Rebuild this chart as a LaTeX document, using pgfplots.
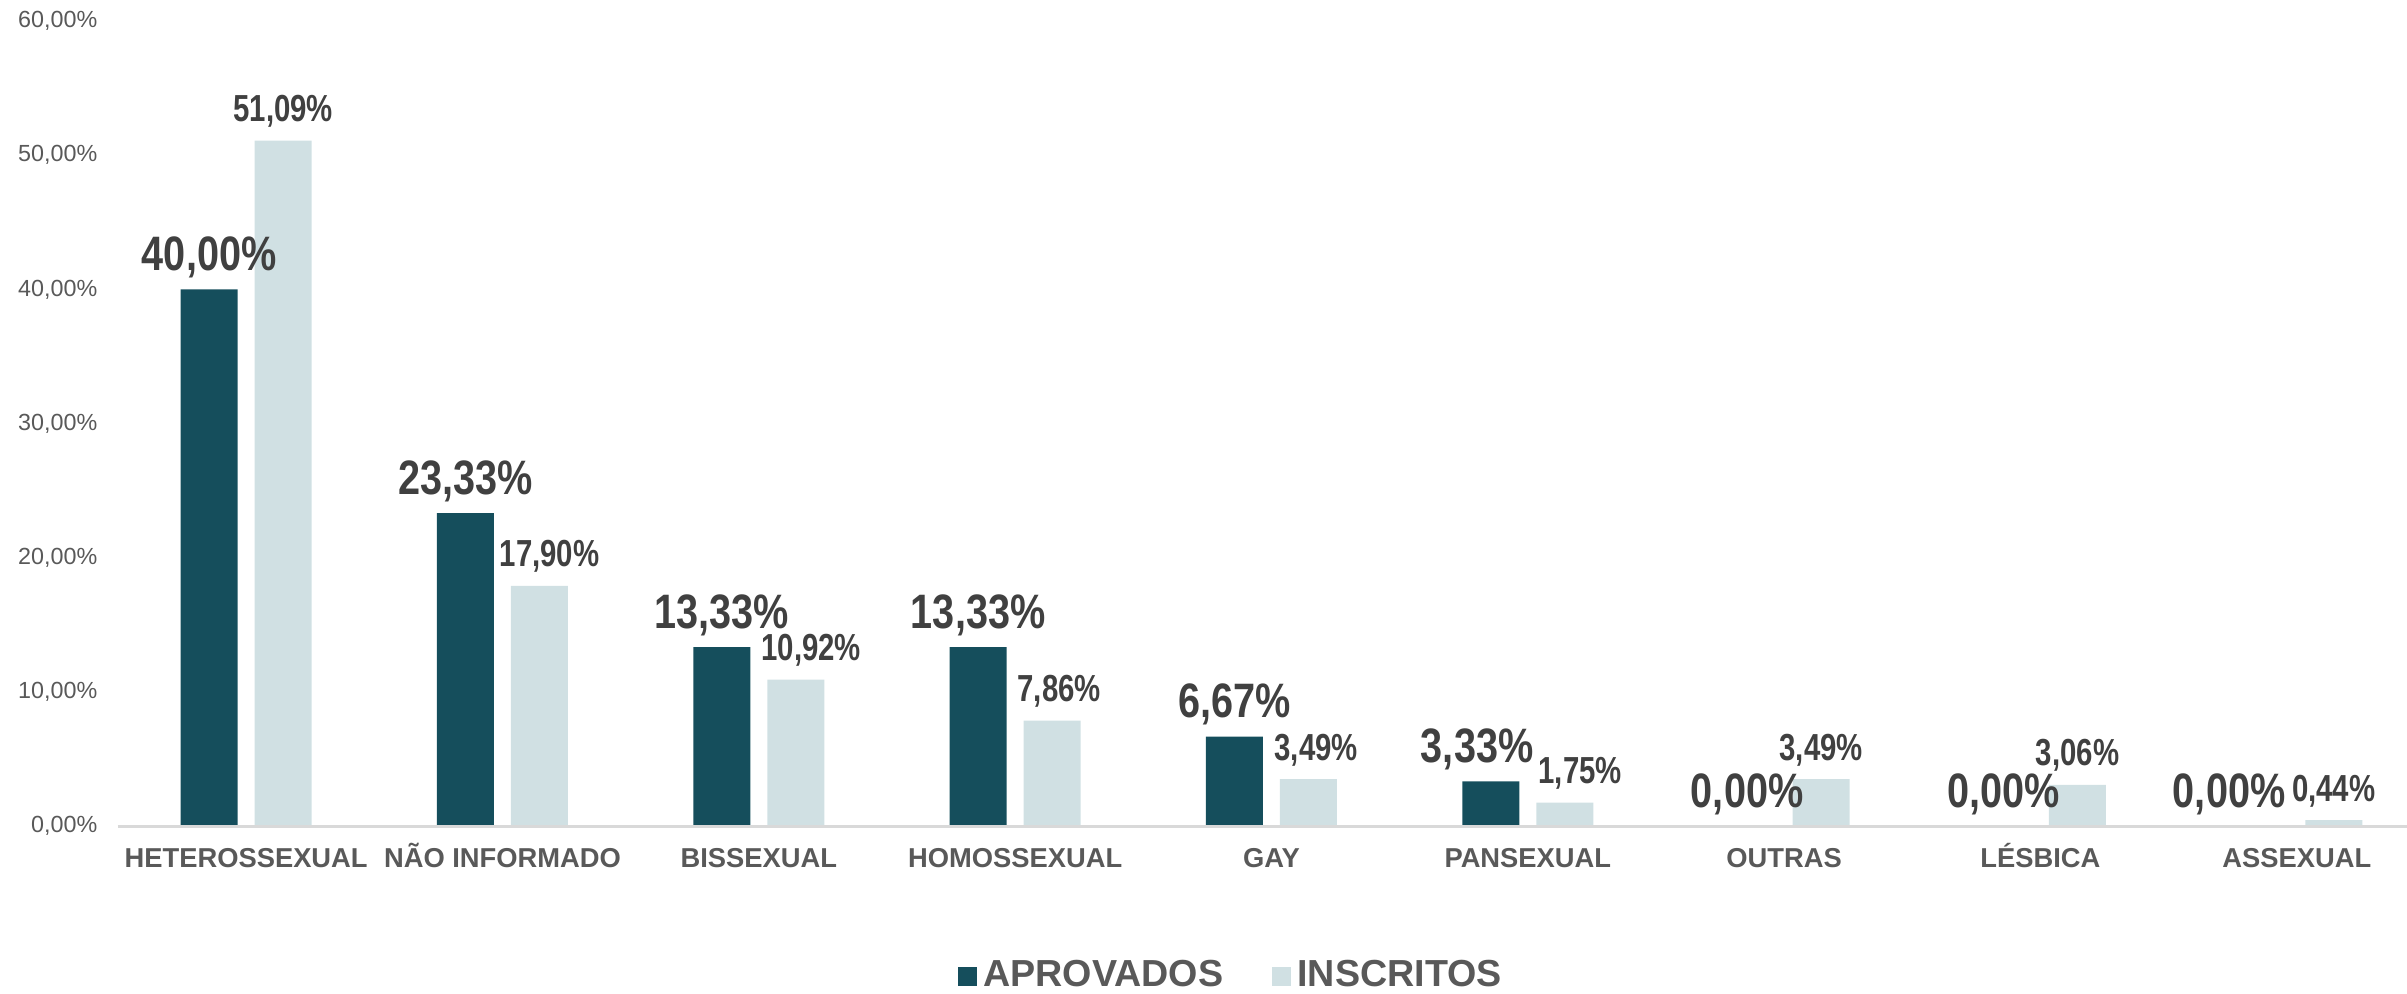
\documentclass[border=0pt]{standalone}
\usepackage{fontspec}
\setmainfont{Liberation Sans}
\newfontfamily\numfont[FakeStretch=0.78]{Liberation Sans}
\newfontfamily\bignumfont[FakeStretch=0.82]{Liberation Sans}
\usepackage{pgfplots}
\usepackage{pgfplotstable}
\pgfplotsset{compat=1.18}
\definecolor{darkteal}{HTML}{154E5C}
\definecolor{lightteal}{HTML}{D0E0E3}
\definecolor{lblgray}{HTML}{404040}
\definecolor{axgray}{HTML}{595959}
\definecolor{linegray}{HTML}{D9D9D9}
\pgfplotstableread{
x y dx
0 40.00 0
1 23.33 0
2 13.33 0
3 13.33 0
4 6.67 0
5 3.33 -4.1
6 0 0
7 0 0
8 0 -9.2
}\aprovados
\pgfplotstableread{
x y dx
0 51.09 0
1 17.90 3.0
2 10.92 4.6
3 7.86 2.1
4 3.49 2.3
5 1.75 4.6
6 3.49 0
7 3.06 0
8 0.44 0
}\inscritos
\begin{document}
\begin{tikzpicture}
\useasboundingbox (-35.4pt,-50.1pt) rectangle (686.7pt,247.8pt);
\begin{axis}[
  at={(0pt,0pt)}, anchor=south west,
  width=686.7pt, height=241.5pt, scale only axis,
  xmin=-0.5, xmax=8.43, ymin=0, ymax=60,
  clip=false,
  ybar, bar width=17.1pt,
  axis line style={draw=none},
  major tick length=0pt,
  xtick={0,...,8},
  xticklabels={HETEROSSEXUAL,NÃO INFORMADO,BISSEXUAL,HOMOSSEXUAL,GAY,PANSEXUAL,OUTRAS,LÉSBICA,ASSEXUAL},
  xticklabel style={font=\fontsize{8.2}{9}\selectfont\bfseries, text=axgray, anchor=base, inner sep=0pt, yshift=-12.3pt},
  ytick={0,10,...,60},
  yticklabel={\pgfmathprintnumber[fixed,fixed zerofill,precision=2,use comma]{\tick}\%},
  yticklabel style={font=\fontsize{7}{8}\selectfont, text=axgray, anchor=east, inner sep=0pt, xshift=-6pt},
  /pgf/number format/assume math mode=true,
  nodes near coords={\pgfmathprintnumber[fixed,fixed zerofill,precision=2,use comma]{\pgfplotspointmeta}\%},
  legend columns=2,
  legend style={at={(axis description cs:0.4854,0)}, anchor=center, xshift=1.2pt, yshift=-45pt, draw=none, fill=none,
    font=\fontsize{11.3}{12}\selectfont\bfseries, text=axgray,
    /tikz/every even column/.append style={column sep=12.5pt}},
]
\addplot[fill=darkteal, draw=none, bar shift=-11.1pt,
  visualization depends on={\thisrow{dx} \as \dx},
  legend image code/.code={\fill[darkteal] (-0.8pt,-2.85pt) rectangle (4.9pt,2.85pt);},
  every node near coord/.append style={font=\bignumfont\bfseries\fontsize{14.5}{15}\selectfont, text=lblgray, anchor=base, inner sep=0pt, yshift=5.7pt, xshift=\dx pt}]
  table[x=x, y=y] {\aprovados};
\addplot[fill=lightteal, draw=none, bar shift=11.1pt,
  visualization depends on={\thisrow{dx} \as \dx},
  legend image code/.code={\fill[lightteal] (-0.8pt,-2.85pt) rectangle (4.9pt,2.85pt);},
  every node near coord/.append style={font=\numfont\bfseries\fontsize{11.3}{12}\selectfont, text=lblgray, anchor=base, inner sep=0pt, yshift=5.7pt, xshift=\dx pt}]
  table[x=x, y=y] {\inscritos};
\draw[linegray, line width=0.9pt] (axis cs:-0.5,0) -- (axis cs:8.43,0);
\legend{APROVADOS, INSCRITOS}
\end{axis}
\end{tikzpicture}
\end{document}
